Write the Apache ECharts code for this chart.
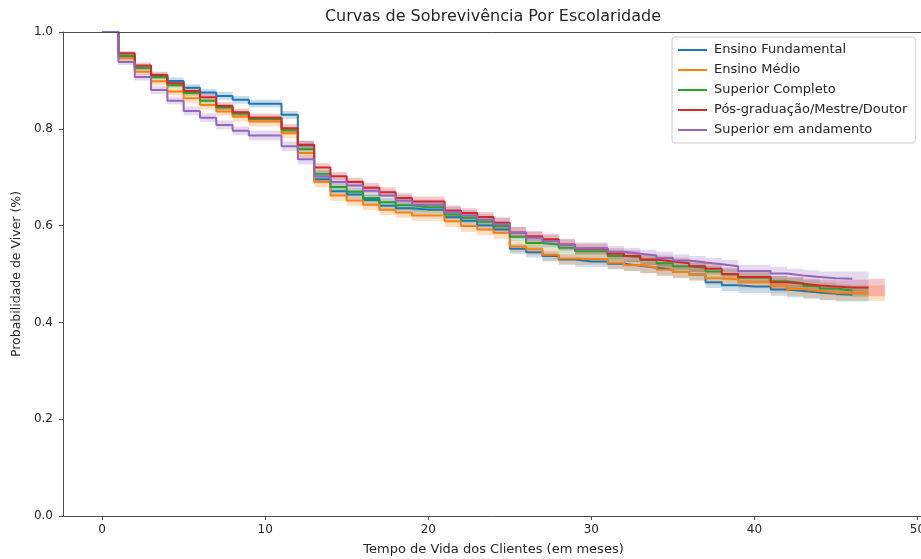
<!DOCTYPE html>
<html>
<head>
<meta charset="utf-8">
<script src="https://cdn.jsdelivr.net/npm/echarts@6/dist/echarts.min.js"></script>
<style>
  html, body { margin: 0; padding: 0; background: #ffffff; }
  #chart { width: 921px; height: 559px; }
</style>
</head>
<body>
<div id="chart"></div>
<script>
// Kaplan-Meier survival by education level: value held from month t to month t+1
const groupNames = [
  'Ensino Fundamental',
  'Ensino Médio',
  'Superior Completo',
  'Pós-graduação/Mestre/Doutor',
  'Superior em andamento'
];
const groupColors = ['#1f77b4', '#ff7f0e', '#2ca02c', '#d62728', '#9467bd'];

const survFundamental = [1.000, 0.950, 0.926, 0.910, 0.899, 0.885, 0.875, 0.868, 0.860, 0.852,
  0.852, 0.829, 0.766, 0.696, 0.671, 0.664, 0.653, 0.641, 0.636, 0.633,
  0.633, 0.617, 0.610, 0.600, 0.592, 0.552, 0.545, 0.537, 0.530, 0.526,
  0.526, 0.521, 0.517, 0.513, 0.509, 0.504, 0.499, 0.483, 0.477, 0.474,
  0.474, 0.468, 0.465, 0.462, 0.459, 0.457, 0.457];
const survMedio = [1.000, 0.946, 0.918, 0.898, 0.877, 0.863, 0.849, 0.836, 0.825, 0.815,
  0.815, 0.791, 0.750, 0.690, 0.662, 0.652, 0.643, 0.633, 0.627, 0.621,
  0.621, 0.609, 0.599, 0.592, 0.585, 0.557, 0.551, 0.540, 0.532, 0.531,
  0.531, 0.523, 0.518, 0.514, 0.509, 0.504, 0.499, 0.491, 0.489, 0.483,
  0.483, 0.475, 0.469, 0.465, 0.461, 0.460, 0.460, 0.460];
const survSuperior = [1.000, 0.951, 0.926, 0.907, 0.890, 0.874, 0.858, 0.844, 0.831, 0.820,
  0.820, 0.797, 0.758, 0.707, 0.680, 0.670, 0.657, 0.648, 0.642, 0.638,
  0.638, 0.623, 0.616, 0.608, 0.599, 0.577, 0.564, 0.561, 0.554, 0.547,
  0.547, 0.537, 0.535, 0.529, 0.522, 0.516, 0.513, 0.505, 0.499, 0.492,
  0.492, 0.485, 0.481, 0.475, 0.470, 0.466, 0.465];
const survPos = [1.000, 0.956, 0.931, 0.911, 0.894, 0.878, 0.865, 0.847, 0.834, 0.823,
  0.823, 0.801, 0.767, 0.720, 0.702, 0.690, 0.678, 0.669, 0.657, 0.650,
  0.650, 0.631, 0.626, 0.618, 0.606, 0.586, 0.578, 0.572, 0.561, 0.552,
  0.552, 0.542, 0.537, 0.530, 0.526, 0.522, 0.516, 0.511, 0.500, 0.494,
  0.494, 0.483, 0.480, 0.476, 0.474, 0.472, 0.472, 0.472];
const survAndamento = [1.000, 0.938, 0.907, 0.880, 0.858, 0.837, 0.823, 0.808, 0.796, 0.786,
  0.786, 0.764, 0.737, 0.702, 0.690, 0.683, 0.672, 0.662, 0.652, 0.643,
  0.643, 0.628, 0.621, 0.612, 0.603, 0.585, 0.575, 0.568, 0.560, 0.553,
  0.553, 0.546, 0.542, 0.538, 0.533, 0.528, 0.524, 0.520, 0.516, 0.506,
  0.506, 0.501, 0.497, 0.494, 0.491, 0.490, 0.490];

// half-width of the 95% confidence interval at each month
const ciFundamental = [0, 0.005, 0.006, 0.006, 0.007, 0.007, 0.007, 0.008, 0.008, 0.008,
  0.008, 0.008, 0.009, 0.009, 0.009, 0.009, 0.010, 0.010, 0.010, 0.010,
  0.010, 0.010, 0.010, 0.010, 0.010, 0.010, 0.011, 0.011, 0.011, 0.011,
  0.011, 0.011, 0.011, 0.011, 0.012, 0.012, 0.012, 0.012, 0.012, 0.013,
  0.013, 0.013, 0.013, 0.013, 0.013, 0.014, 0.014];
const ciMedio = [0, 0.006, 0.007, 0.008, 0.008, 0.009, 0.009, 0.009, 0.010, 0.010,
  0.010, 0.010, 0.010, 0.011, 0.011, 0.011, 0.011, 0.011, 0.011, 0.011,
  0.011, 0.012, 0.012, 0.012, 0.012, 0.012, 0.012, 0.012, 0.012, 0.012,
  0.012, 0.012, 0.012, 0.013, 0.013, 0.013, 0.013, 0.013, 0.013, 0.013,
  0.013, 0.014, 0.014, 0.014, 0.014, 0.015, 0.015, 0.016];
const ciSuperior = [0, 0.004, 0.005, 0.005, 0.006, 0.006, 0.006, 0.007, 0.007, 0.007,
  0.007, 0.007, 0.008, 0.008, 0.008, 0.008, 0.008, 0.008, 0.009, 0.009,
  0.009, 0.009, 0.009, 0.009, 0.009, 0.009, 0.009, 0.009, 0.010, 0.010,
  0.010, 0.010, 0.010, 0.010, 0.010, 0.010, 0.010, 0.011, 0.011, 0.011,
  0.011, 0.011, 0.011, 0.012, 0.012, 0.012, 0.012];
const ciPos = [0, 0.005, 0.006, 0.007, 0.007, 0.007, 0.008, 0.008, 0.008, 0.008,
  0.008, 0.009, 0.009, 0.009, 0.009, 0.009, 0.010, 0.010, 0.010, 0.010,
  0.010, 0.010, 0.010, 0.010, 0.011, 0.011, 0.011, 0.011, 0.011, 0.011,
  0.011, 0.011, 0.012, 0.012, 0.012, 0.012, 0.012, 0.012, 0.013, 0.013,
  0.013, 0.013, 0.014, 0.014, 0.014, 0.015, 0.016, 0.018];
const ciAndamento = [0, 0.006, 0.007, 0.008, 0.008, 0.009, 0.009, 0.009, 0.009, 0.010,
  0.010, 0.010, 0.010, 0.010, 0.010, 0.011, 0.011, 0.011, 0.011, 0.011,
  0.011, 0.011, 0.011, 0.012, 0.012, 0.012, 0.012, 0.012, 0.012, 0.012,
  0.012, 0.012, 0.012, 0.012, 0.013, 0.013, 0.013, 0.013, 0.013, 0.013,
  0.013, 0.014, 0.014, 0.014, 0.014, 0.015, 0.015];

const xTickValues = [0, 10, 20, 30, 40, 50];
const yTickValues = [0, 0.2, 0.4, 0.6, 0.8, 1.0];

const survList = [survFundamental, survMedio, survSuperior, survPos, survAndamento];
const ciList = [ciFundamental, ciMedio, ciSuperior, ciPos, ciAndamento];

const FONT = 'DejaVu Sans';
const TEXT = '#262626';
const AXIS = '#4d4d4d';

function hexToRgba(hex, a) {
  const n = parseInt(hex.slice(1), 16);
  return 'rgba(' + (n >> 16 & 255) + ',' + (n >> 8 & 255) + ',' + (n & 255) + ',' + a + ')';
}

// Step-shaped confidence band drawn as one polygon through the axis scales
function bandSeries(name, surv, ci, color) {
  return {
    type: 'custom',
    name: name + ' IC',
    silent: true,
    clip: true,
    data: surv.map(function (v, i) { return [i, v - ci[i], v + ci[i]]; }),
    encode: { x: 0, y: [1, 2] },
    renderItem: function (params, api) {
      if (params.dataIndexInside !== 0) return null;
      const n = params.dataInsideLength;
      const upper = [];
      const lower = [];
      for (let i = 0; i < n; i++) {
        const x0 = api.value(0, i);
        const x1 = i + 1 < n ? api.value(0, i + 1) : x0 + 1;
        const lo = api.value(1, i);
        const hi = api.value(2, i);
        upper.push(api.coord([x0, hi]), api.coord([x1, hi]));
        lower.push(api.coord([x0, lo]), api.coord([x1, lo]));
      }
      return {
        type: 'polygon',
        shape: { points: upper.concat(lower.reverse()) },
        style: { fill: hexToRgba(color, 0.25), stroke: null }
      };
    }
  };
}

function lineSeries(name, surv, color) {
  return {
    type: 'line',
    name: name,
    step: 'end',
    symbol: 'none',
    clip: true,
    data: surv.map(function (v, i) { return [i, v]; }),
    lineStyle: { color: color, width: 2 },
    itemStyle: { color: color }
  };
}

const series = [];
groupNames.forEach(function (name, k) {
  series.push(lineSeries(name, survList[k], groupColors[k]));
  series.push(bandSeries(name, survList[k], ciList[k], groupColors[k]));
});

const chart = echarts.init(document.getElementById('chart'), null, { renderer: 'canvas' });

chart.setOption({
  animation: false,
  backgroundColor: '#ffffff',
  textStyle: { fontFamily: FONT },
  graphic: [{
    type: 'text',
    x: 493,
    y: 17,
    style: {
      text: 'Curvas de Sobrevivência Por Escolaridade',
      fill: TEXT,
      font: '16px "DejaVu Sans"',
      textAlign: 'center',
      textVerticalAlign: 'middle'
    }
  }],
  grid: { left: 63, top: 32, width: 861, height: 484, containLabel: false, outerBoundsMode: 'none' },
  legend: {
    data: groupNames,
    orient: 'vertical',
    left: 672,
    top: 37,
    icon: 'rect',
    itemWidth: 29,
    itemHeight: 2,
    itemGap: 6,
    padding: [6, 8, 6, 6],
    borderColor: '#cccccc',
    borderWidth: 1,
    borderRadius: 3,
    backgroundColor: 'rgba(255,255,255,0.85)',
    selectedMode: false,
    textStyle: { fontFamily: FONT, fontSize: 13, color: TEXT, lineHeight: 14, padding: [0, 0, 0, 2] }
  },
  xAxis: [{
    type: 'value',
    min: -2.4,
    max: 50.4,
    position: 'bottom',
    z: 5,
    name: 'Tempo de Vida dos Clientes (em meses)',
    nameLocation: 'middle',
    nameGap: 27,
    nameTextStyle: { fontFamily: FONT, fontSize: 13, color: TEXT },
    axisLine: { show: true, onZero: false, lineStyle: { color: AXIS, width: 1 } },
    axisTick: { show: true, length: 4, lineStyle: { color: AXIS }, customValues: xTickValues },
    axisLabel: { fontFamily: FONT, fontSize: 12, color: TEXT, margin: 8, customValues: xTickValues },
    splitLine: { show: false }
  }, {
    type: 'value',
    min: -2.4,
    max: 50.4,
    position: 'top',
    z: 5,
    axisLine: { show: true, onZero: false, lineStyle: { color: AXIS, width: 1 } },
    axisTick: { show: false },
    axisLabel: { show: false },
    splitLine: { show: false }
  }],
  yAxis: {
    type: 'value',
    min: 0,
    max: 1,
    z: 5,
    name: 'Probabilidade de Viver (%)',
    nameLocation: 'middle',
    nameGap: 38,
    nameRotate: 90,
    nameTextStyle: { fontFamily: FONT, fontSize: 12.5, color: TEXT },
    axisLine: { show: true, onZero: false, lineStyle: { color: AXIS, width: 1 } },
    axisTick: { show: true, length: 4, lineStyle: { color: AXIS }, customValues: yTickValues },
    axisLabel: {
      fontFamily: FONT, fontSize: 12, color: TEXT, margin: 10,
      customValues: yTickValues,
      formatter: function (v) { return v.toFixed(1); }
    },
    splitLine: { show: false }
  },
  series: series
});
</script>
</body>
</html>
